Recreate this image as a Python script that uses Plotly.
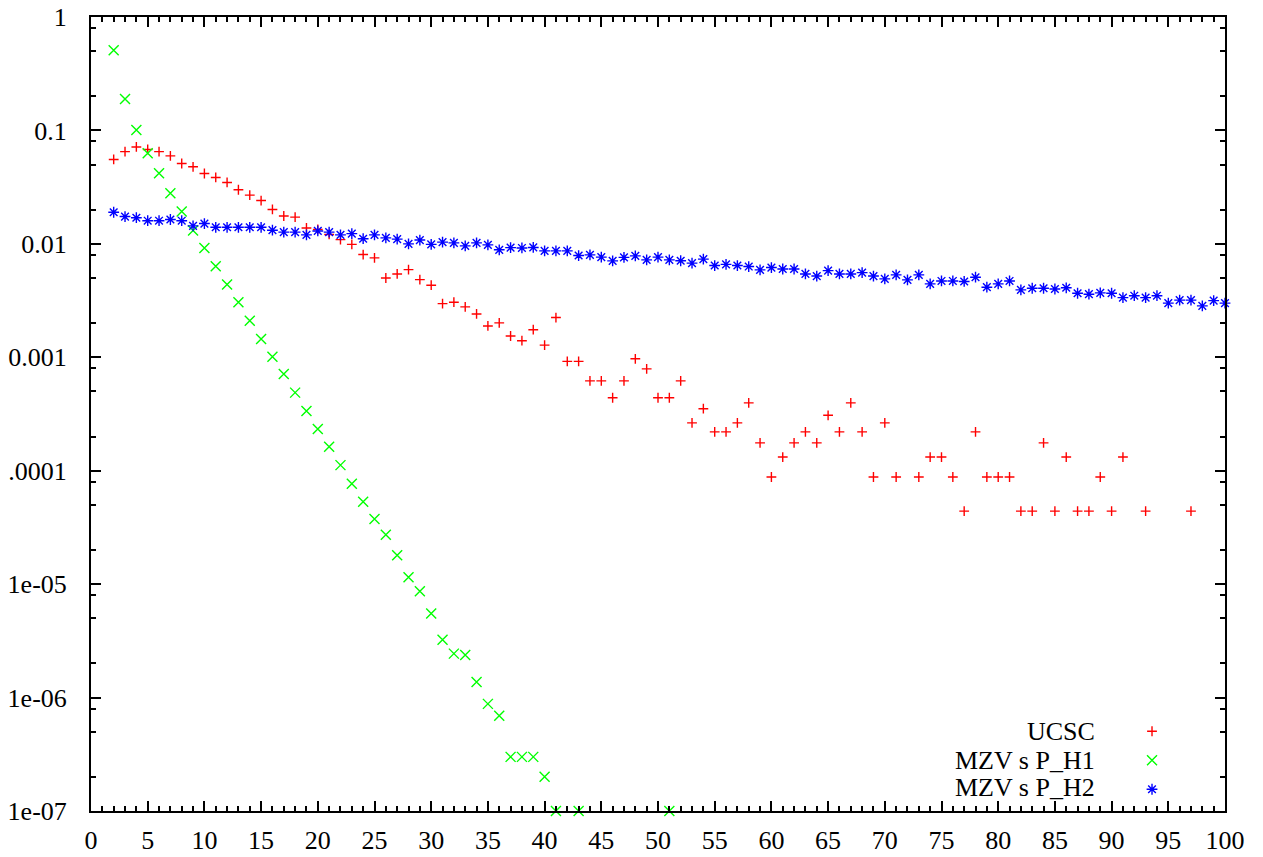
import plotly.graph_objects as go

# ---- data ----
ucsc_x = [2,3,4,5,6,7,8,9,10,11,12,13,14,15,16,17,18,19,20,21,22,23,24,25,26,27,28,29,30,
          31,32,33,34,35,36,37,38,39,40,41,42,43,44,45,46,47,48,49,50,51,52,53,54,55,56,57,58,59,60,
          61,62,63,64,65,66,67,68,69,70,71,73,74,75,76,77,78,79,80,81,82,83,84,85,86,87,88,89,90,91,93,97]
ucsc_y = [0.0555,0.065,0.0715,0.068,0.065,0.0597,0.0511,0.0478,0.0417,0.0385,0.0348,0.0300,0.0269,0.0241,
          0.0201,0.0176,0.0172,0.0138,0.0134,0.0121,0.0109,0.0099,0.00805,0.00752,0.0050,0.00543,0.00593,
          0.00484,0.00432,0.00297,0.00306,0.00278,0.00241,0.00189,0.00201,0.00154,0.00140,0.00175,0.00128,
          0.00224,0.00092,0.00092,0.00062,0.00062,0.00044,0.00062,0.00097,0.00079,0.00044,0.00044,0.00062,
          0.000264,0.000352,0.00022,0.00022,0.000264,0.000396,0.000176,0.000088,0.000132,0.000176,0.00022,
          0.000176,0.000308,0.00022,0.000396,0.00022,0.000088,0.000264,0.000088,0.000088,0.000132,0.000132,
          0.000088,0.000044,0.00022,0.000088,0.000088,0.000088,0.000044,0.000044,0.000176,0.000044,0.000132,
          0.000044,0.000044,0.000088,0.000044,0.000132,0.000044,0.000044]

h1_x = [2,3,4,5,6,7,8,9,10,11,12,13,14,15,16,17,18,19,20,21,22,23,24,25,26,27,28,29,30,
        31,32,33,34,35,36,37,38,39,40,41,43,51]
h1_y = [0.508,0.189,0.101,0.0628,0.042,0.028,0.0193,0.0131,0.0092,0.00635,0.00438,0.00306,0.0021,0.00145,
        0.00101,0.000713,0.000488,0.000336,0.000233,0.000163,0.000112,7.66e-5,5.32e-5,3.76e-5,2.72e-5,1.8e-5,
        1.15e-5,8.65e-6,5.5e-6,3.24e-6,2.44e-6,2.37e-6,1.37e-6,8.8e-7,6.9e-7,3e-7,3e-7,3e-7,2e-7,1e-7,1e-7,1e-7]

h2_x = list(range(2, 101))
h2_y = [0.019,0.0174,0.017,0.016,0.016,0.0164,0.016,0.0144,0.0151,0.014,0.014,0.014,0.014,0.014,0.0132,
        0.0127,0.0127,0.012,0.013,0.0127,0.012,0.0123,0.0111,0.012,0.0113,0.011,0.010,0.0108,0.0099,0.01035,
        0.0102,0.0096,0.0102,0.0098,0.00886,0.00927,0.0092,0.0093,0.00867,0.00867,0.00867,0.00789,0.0080,
        0.00764,0.00708,0.0076,0.00784,0.00722,0.00764,0.00722,0.0071,0.00676,0.00733,0.00644,0.0066,0.00644,
        0.00631,0.0059,0.00618,0.006,0.006,0.00543,0.0052,0.00581,0.00543,0.00543,0.00558,0.0052,0.00491,
        0.00533,0.00481,0.00533,0.00444,0.00471,0.00471,0.00466,0.00508,0.00415,0.00444,0.00471,0.00393,
        0.00406,0.00406,0.0040,0.0041,0.00367,0.0036,0.0037,0.00367,0.00336,0.00349,0.00336,0.00349,0.0030,
        0.00319,0.00319,0.00284,0.00316,0.0030]

series_names = ["UCSC", "MZV s P_H1", "MZV s P_H2"]
series_colors = ["#ff0000", "#00ff00", "#0000ff"]
series_symbols = ["cross-thin", "x-thin", "asterisk"]
series_sizes = [7, 10, 9]

x_tickvals = list(range(0, 101, 5))
y_tickvals = [1, 0.1, 0.01, 0.001, 0.0001, 1e-05, 1e-06, 1e-07]
y_ticktext = ["1", "0.1", "0.01", "0.001", ".0001", "1e-05", "1e-06", "1e-07"]
y_minor_mult = [2, 5, 8]
y_minor_vals = [m * 10.0 ** k for k in range(-7, 0) for m in y_minor_mult]

FONT = "'Liberation Serif', 'DejaVu Serif', serif"

fig = go.Figure()
data = [(ucsc_x, ucsc_y), (h1_x, h1_y), (h2_x, h2_y)]
for (xs, ys), nm, col, sym, sz in zip(data, series_names, series_colors, series_symbols, series_sizes):
    fig.add_trace(go.Scatter(
        x=xs, y=ys, mode="markers", name=nm, showlegend=False, cliponaxis=False,
        marker=dict(symbol=sym, size=sz, color=col, line=dict(color=col, width=1.4)),
    ))
# legend keys (symbols only; labels drawn as right-aligned annotations like gnuplot)
for nm, col, sym, sz in zip(series_names, series_colors, series_symbols, series_sizes):
    fig.add_trace(go.Scatter(
        x=[None], y=[None], mode="markers", name="", showlegend=True, legendgroup=nm,
        marker=dict(symbol=sym, size=sz, color=col, line=dict(color=col, width=1.4)),
    ))

label_y = [0.0999, 0.0642, 0.0302]
for nm, yy in zip(series_names, label_y):
    fig.add_annotation(text=nm, xref="paper", yref="paper", x=0.887, y=yy,
                       xanchor="right", yanchor="middle", showarrow=False,
                       font=dict(family=FONT, size=26, color="black"))

axis_common = dict(showline=True, linecolor="black", linewidth=2, mirror="allticks",
                   ticks="inside", tickcolor="black", tickwidth=1.5, ticklen=10,
                   showgrid=False, zeroline=False, automargin=False, ticklabeloverflow="allow",
                   tickfont=dict(family=FONT, size=26, color="black"))

fig.update_xaxes(range=[0, 100], tickmode="array", tickvals=x_tickvals,
                 minor=dict(dtick=1, ticks="inside", ticklen=5, tickcolor="black", tickwidth=1.5, showgrid=False),
                 ticklabelstandoff=5, **axis_common)
fig.update_yaxes(type="log", range=[-7, 0], tickmode="array", tickvals=y_tickvals, ticktext=y_ticktext,
                 minor=dict(tickmode="array", tickvals=y_minor_vals, ticks="inside", ticklen=5,
                            tickcolor="black", tickwidth=1.5, showgrid=False),
                 ticklabelstandoff=17, **axis_common)

fig.update_layout(
    width=1263, height=857,
    margin=dict(l=91, r=38, t=17, b=46, autoexpand=False),
    plot_bgcolor="white", paper_bgcolor="white",
    font=dict(family=FONT, size=26, color="black"),
    legend=dict(x=0.918, y=0.125, xanchor="left", yanchor="top", bgcolor="rgba(0,0,0,0)",
                font=dict(family=FONT, size=20), tracegroupgap=0, itemwidth=30),
)

# remove the default 8px page margin so the figure fills the window exactly
fig.write_html("out.html", config={"displayModeBar": False},
               post_script="document.body.style.margin='0';document.body.style.overflow='hidden';")
